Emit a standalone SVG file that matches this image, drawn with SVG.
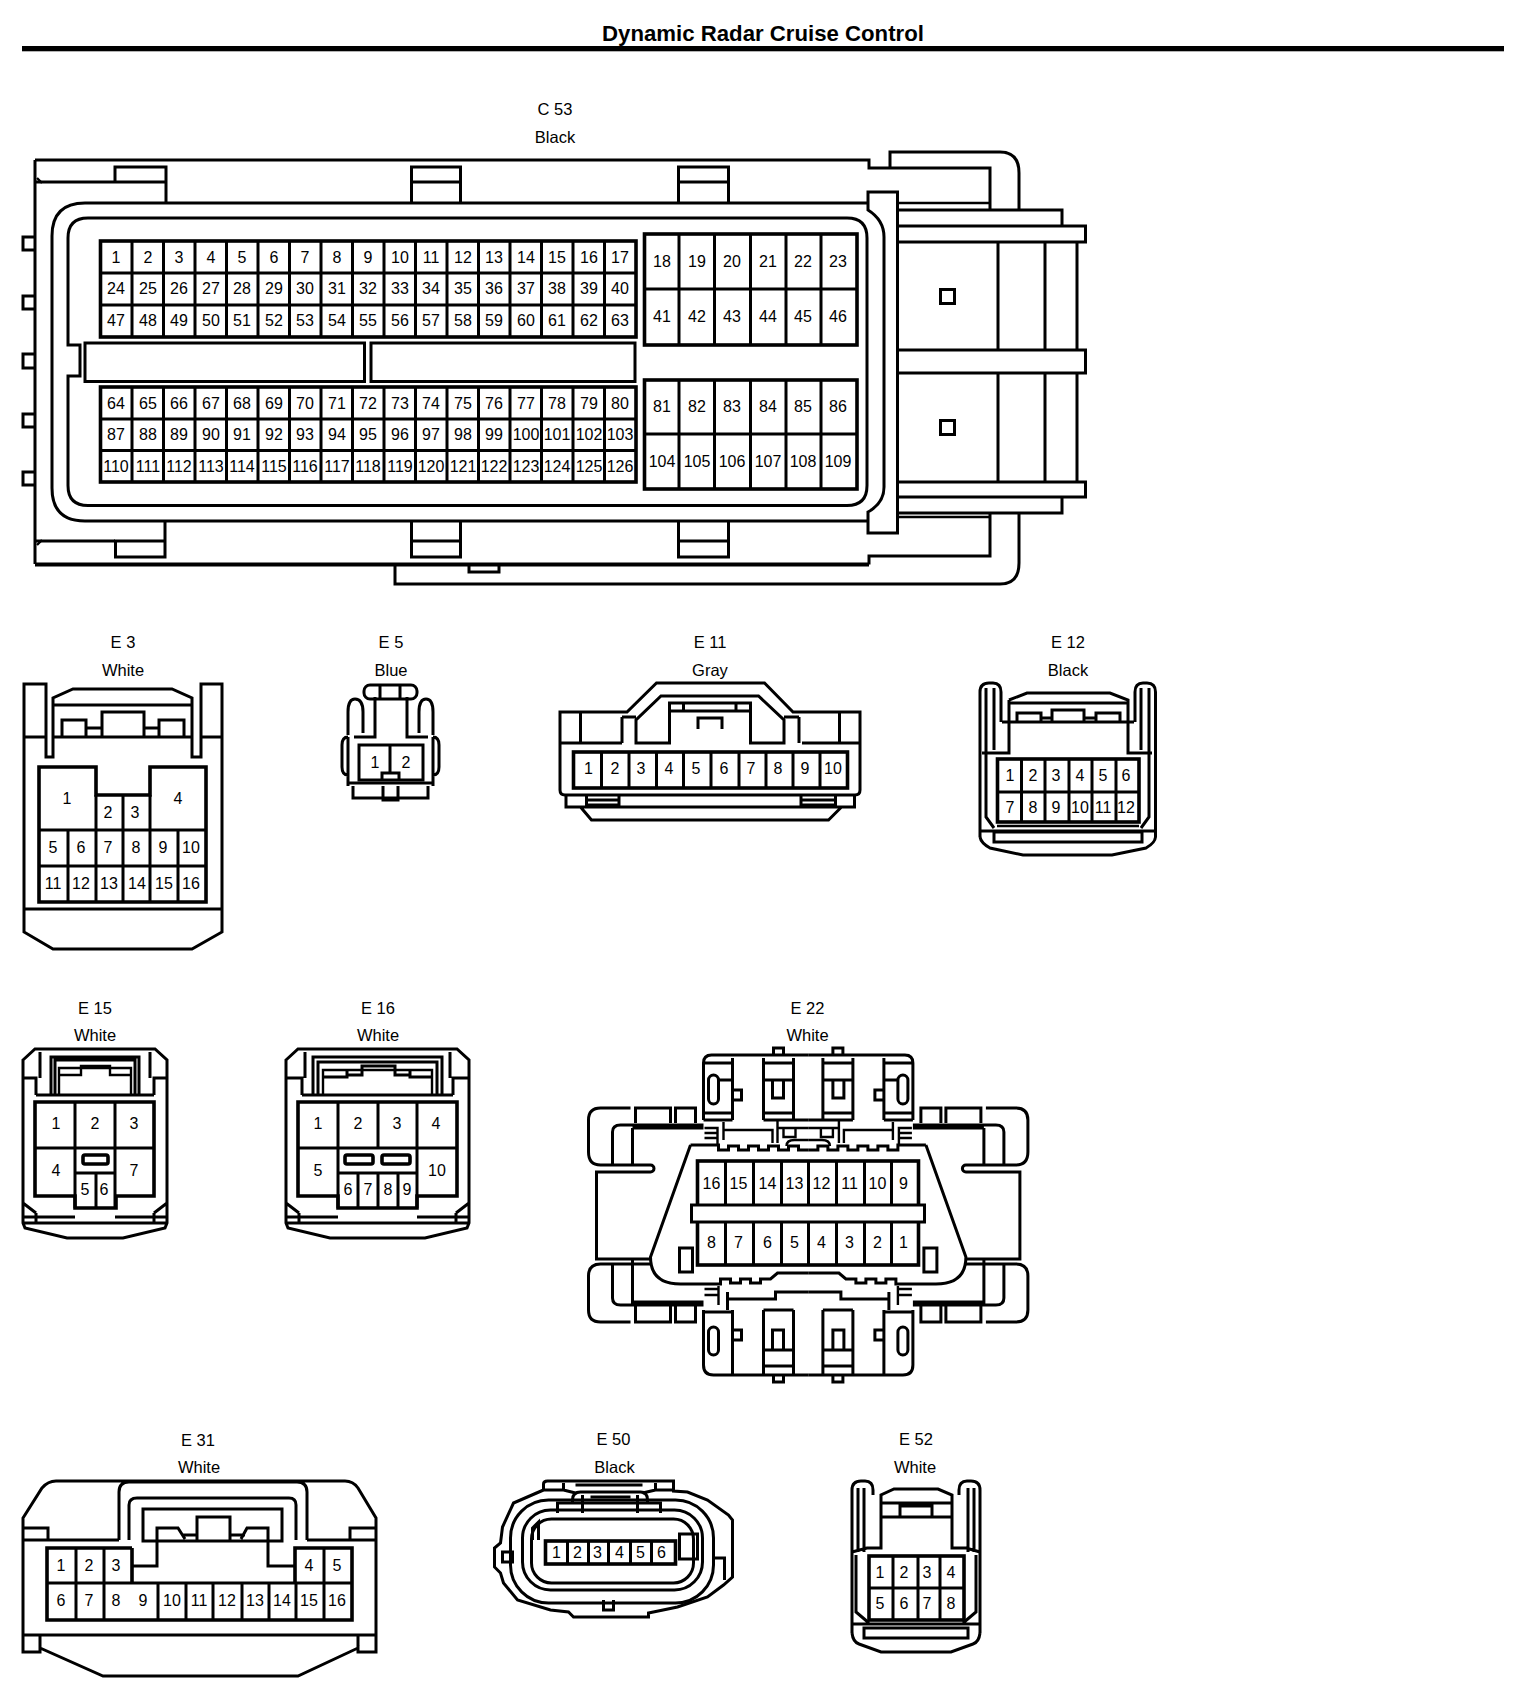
<svg xmlns="http://www.w3.org/2000/svg" xmlns:xlink="http://www.w3.org/1999/xlink" width="1520" height="1692" viewBox="0 0 1520 1692">
<style>
.s{fill:none;stroke:#000;stroke-width:3;stroke-linejoin:miter}
.m{fill:none;stroke:#000;stroke-width:2.4}
.b{fill:none;stroke:#000;stroke-width:3.6}
.o{fill:none;stroke:#000;stroke-width:4}
text{font-family:"Liberation Sans",Arial,sans-serif;fill:#000;text-anchor:middle}
.n text{font-size:16px}
.l{font-size:16.5px}
.t{font-size:22.2px;font-weight:bold}
</style>
<defs>
<path id="cols" d="M132,0V96M163.5,0V96M195,0V96M226.5,0V96M258,0V96M289.5,0V96M321,0V96M352.5,0V96M384,0V96M415.5,0V96M447,0V96M478.5,0V96M510,0V96M541.5,0V96M573,0V96M604.5,0V96"/>
<g id="e22h">
<path class="s" d="M807.7,1055H711Q703,1055 703,1063V1120M703,1063H732M732,1058V1120M703,1113H732M703,1120H732M718,1080H732M732,1090H741V1100H732M763,1058V1120M793,1058V1120M763,1063H793M763,1080H793M772,1080V1098H783V1080M763,1113H793M763,1120H807.7M773,1055V1048H783V1055"/>
<rect class="s" x="708" y="1075" width="10" height="29" rx="5"/>
<path class="m" d="M777,1120V1143M777,1128H807.7M723,1122V1140M704,1128H717V1145M704,1133H717M704,1138H717M723,1130H772V1143M783,1128H795V1137H783ZM786,1146Q786,1140 794,1140H807.7"/>
<path class="s" d="M690,1145H718V1150H728V1146H738V1150H748V1146H758V1150H768V1146H778V1150H788V1146H798V1150H807.7M690,1145L650,1257Q650,1284 680,1284H720V1279H730V1283H740V1279H750V1283H760V1279H770L777,1273H807.7M679,1248H692V1272H679Z"/>
<path class="s" d="M630,1108H600Q588,1108 588,1120V1152Q588,1165 600,1165H650A3.500,3.500 0 0 1 650,1172H596V1259H650M600,1264H650M630,1322H600Q588,1322 588,1310V1276Q588,1264 600,1264M635,1123V1108H670V1123M675,1123V1108H695V1123M635,1306V1322H670V1306M675,1306V1322H695V1306"/>
<path class="s" d="M703,1125H620Q612,1125 612,1132V1165M632,1128V1165M632,1128H703M703,1302H632V1260M612,1264V1298Q612,1305 620,1305H703"/>
<path class="s" d="M727,1299H775V1292H807.7M727,1292V1310M703,1310V1365Q703,1375 713,1375H807.7M703,1312H732M732,1310V1375M732,1330H741V1340H732M763,1310H793M763,1310V1375M793,1310V1375M772,1350V1330H783V1350M763,1350H793M763,1366H793M773,1375V1382H783V1375"/>
<rect class="s" x="708" y="1327" width="10" height="28" rx="5"/>
<path class="m" d="M704,1289H718M704,1295H718M718,1286V1305"/>
</g>
</defs>
<rect width="1520" height="1692" fill="#fff"/>
<g id="header">
<text class="t" x="763" y="41">Dynamic Radar Cruise Control</text>
<rect x="22" y="46" width="1482" height="5.300"/>
</g>
<g id="C53">
<text class="l" x="555" y="115">C 53</text>
<text class="l" x="555" y="143">Black</text>
<path class="s" d="M35,160H869V168H890V152H1000Q1019,152 1019,173V210M869,168H990V210M898,210H1062V226M898,226H1085.500V242H898M898,350H1085.500V373H898M898,482H1085.500V497H898M898,513H1062V497M1019,513V563Q1019,584 1000,584H395V566M869,564.500V556H990V513M1077,242V350M1077,373V482M998,242V350M998,373V482M1045,242V350M1045,373V482M35,160V564M35,182H166M35,541H115"/>
<path class="o" d="M35,564.500H869"/>
<path class="m" d="M898,203H990M898,517H990M37,178L42,183M37,545L42,540"/>
<path class="s" d="M115,182V167H166V203M411.500,203V167H460.500V203M411.500,182H460.500M678.500,203V167H728.500V203M678.500,182H728.500M165,521V557H115.500V541H165M411.500,521V557H460.500V521M411.500,541H460.500M678.500,521V557H728.500V521M678.500,541H728.500"/>
<path class="s" d="M868,192H897.500V533H868V512Q884,503 884,487V237Q884,220 868,210Z"/>
<path class="s" d="M868,203H85Q52,203 52,236V488Q52,521 85,521H868M847,218H88Q68,218 68,238V345H80V376H68V485.500Q68,505.500 88,505.500H847Q867,505.500 867,485.500V238Q867,218 847,218Z"/>
<path class="s" d="M35,237H23V250H35M35,296H23V309H35M35,354H23V368H35M35,414H23V427H35M35,472H23V485H35M469,566V572H499V566"/>
<rect class="s" x="940.500" y="289.500" width="14" height="14"/>
<rect class="s" x="940.500" y="420.500" width="14" height="14"/>
<rect class="s" x="85" y="343" width="279.500" height="38.500"/>
<rect class="s" x="371" y="343" width="264" height="38.500"/>
<rect class="b" x="100.500" y="241" width="535.500" height="96"/>
<rect class="b" x="100.500" y="387" width="535.500" height="95"/>
<use xlink:href="#cols" href="#cols" y="241" class="s"/>
<use xlink:href="#cols" href="#cols" y="387" class="s"/>
<path class="s" d="M100.500,273H636M100.500,305H636M100.500,419H636M100.500,450.500H636"/>
<rect class="b" x="644.500" y="234" width="212.500" height="111"/>
<rect class="b" x="644.500" y="380" width="212.500" height="109"/>
<path class="s" d="M679,234V345M714.500,234V345M750.500,234V345M786,234V345M821,234V345M679,380V489M714.500,380V489M750.500,380V489M786,380V489M821,380V489M644.500,289H857M644.500,434H857"/>
<g class="n">
<text x="116" y="262.500">1</text><text x="148" y="262.500">2</text><text x="179" y="262.500">3</text><text x="211" y="262.500">4</text><text x="242" y="262.500">5</text><text x="274" y="262.500">6</text><text x="305" y="262.500">7</text><text x="337" y="262.500">8</text><text x="368" y="262.500">9</text><text x="400" y="262.500">10</text><text x="431" y="262.500">11</text><text x="463" y="262.500">12</text><text x="494" y="262.500">13</text><text x="526" y="262.500">14</text><text x="557" y="262.500">15</text><text x="589" y="262.500">16</text><text x="620" y="262.500">17</text>
<text x="116" y="294">24</text><text x="148" y="294">25</text><text x="179" y="294">26</text><text x="211" y="294">27</text><text x="242" y="294">28</text><text x="274" y="294">29</text><text x="305" y="294">30</text><text x="337" y="294">31</text><text x="368" y="294">32</text><text x="400" y="294">33</text><text x="431" y="294">34</text><text x="463" y="294">35</text><text x="494" y="294">36</text><text x="526" y="294">37</text><text x="557" y="294">38</text><text x="589" y="294">39</text><text x="620" y="294">40</text>
<text x="116" y="325.500">47</text><text x="148" y="325.500">48</text><text x="179" y="325.500">49</text><text x="211" y="325.500">50</text><text x="242" y="325.500">51</text><text x="274" y="325.500">52</text><text x="305" y="325.500">53</text><text x="337" y="325.500">54</text><text x="368" y="325.500">55</text><text x="400" y="325.500">56</text><text x="431" y="325.500">57</text><text x="463" y="325.500">58</text><text x="494" y="325.500">59</text><text x="526" y="325.500">60</text><text x="557" y="325.500">61</text><text x="589" y="325.500">62</text><text x="620" y="325.500">63</text>
<text x="116" y="409">64</text><text x="148" y="409">65</text><text x="179" y="409">66</text><text x="211" y="409">67</text><text x="242" y="409">68</text><text x="274" y="409">69</text><text x="305" y="409">70</text><text x="337" y="409">71</text><text x="368" y="409">72</text><text x="400" y="409">73</text><text x="431" y="409">74</text><text x="463" y="409">75</text><text x="494" y="409">76</text><text x="526" y="409">77</text><text x="557" y="409">78</text><text x="589" y="409">79</text><text x="620" y="409">80</text>
<text x="116" y="440">87</text><text x="148" y="440">88</text><text x="179" y="440">89</text><text x="211" y="440">90</text><text x="242" y="440">91</text><text x="274" y="440">92</text><text x="305" y="440">93</text><text x="337" y="440">94</text><text x="368" y="440">95</text><text x="400" y="440">96</text><text x="431" y="440">97</text><text x="463" y="440">98</text><text x="494" y="440">99</text><text x="526" y="440">100</text><text x="557" y="440">101</text><text x="589" y="440">102</text><text x="620" y="440">103</text>
<text x="116" y="471.500">110</text><text x="148" y="471.500">111</text><text x="179" y="471.500">112</text><text x="211" y="471.500">113</text><text x="242" y="471.500">114</text><text x="274" y="471.500">115</text><text x="305" y="471.500">116</text><text x="337" y="471.500">117</text><text x="368" y="471.500">118</text><text x="400" y="471.500">119</text><text x="431" y="471.500">120</text><text x="463" y="471.500">121</text><text x="494" y="471.500">122</text><text x="526" y="471.500">123</text><text x="557" y="471.500">124</text><text x="589" y="471.500">125</text><text x="620" y="471.500">126</text>
<text x="662" y="267">18</text><text x="697" y="267">19</text><text x="732" y="267">20</text><text x="768" y="267">21</text><text x="803" y="267">22</text><text x="838" y="267">23</text>
<text x="662" y="322">41</text><text x="697" y="322">42</text><text x="732" y="322">43</text><text x="768" y="322">44</text><text x="803" y="322">45</text><text x="838" y="322">46</text>
<text x="662" y="412">81</text><text x="697" y="412">82</text><text x="732" y="412">83</text><text x="768" y="412">84</text><text x="803" y="412">85</text><text x="838" y="412">86</text>
<text x="662" y="467">104</text><text x="697" y="467">105</text><text x="732" y="467">106</text><text x="768" y="467">107</text><text x="803" y="467">108</text><text x="838" y="467">109</text>
</g>
</g>
<g id="E3">
<text class="l" x="123" y="647.500">E 3</text><text class="l" x="123" y="675.500">White</text>
<path class="s" d="M24,684H46V757H53V698L73,689H172L192,698V757H201V684H222V932L192,949H53L24,932ZM53,705H192M24,737H46M53,737H192M201,737H222M24,909H222M62,737V720H86V737M102,737V712H144V737M159,737V720H184V737M86,728H102M144,728H159"/>
<path class="b" d="M39,767H96V795H150V767H206V902H39Z"/>
<path class="s" d="M39,830H206M39,866H206M68,830V902M96,795V902M123,795V902M150,795V902M178,830V902"/>
<g class="n"><text x="67" y="804">1</text><text x="108" y="818">2</text><text x="135" y="818">3</text><text x="178" y="804">4</text><text x="53" y="853">5</text><text x="81" y="853">6</text><text x="108" y="853">7</text><text x="136" y="853">8</text><text x="163" y="853">9</text><text x="191" y="853">10</text><text x="53" y="889">11</text><text x="81" y="889">12</text><text x="109" y="889">13</text><text x="137" y="889">14</text><text x="164" y="889">15</text><text x="191" y="889">16</text></g>
</g>
<g id="E5">
<text class="l" x="391" y="647.500">E 5</text><text class="l" x="391" y="675.500">Blue</text>
<rect class="s" x="364" y="685" width="53" height="14" rx="6"/>
<path class="s" d="M380,685V699M400,685V699M375,697V737H354M407,697V737H428M348,735V712Q348,699 355,699Q363,699 363,712V733M433,735V712Q433,699 426,699Q419,699 419,712V733M348,737V786M433,737V786M348,737Q342,737 342,745V767Q342,775 348,775M433,737Q439,737 439,745V767Q439,775 433,775M348,783H433M353,786V798H428V786M383,786V800H398V786"/>
<rect class="s" x="359" y="745" width="64" height="35"/>
<path class="s" d="M390,745V773M382,780V773H399V780"/>
<g class="n"><text x="375" y="768">1</text><text x="406" y="768">2</text></g>
</g>
<g id="E11" transform="translate(2,0)">
<text class="l" x="708" y="647.500">E 11</text><text class="l" x="708" y="675.500">Gray</text>
<path class="s" d="M558,712H625L654.500,683H762.500L791,712H858V790Q858,795 853,795H563Q558,795 558,790ZM558,743H620M800,743H858M578.500,712V743M620,717V743M620,717H634M782,717H797M797,717V743M837.500,712V743M634,743V720L659,696H756.500L782,720V743H748.500V703H667.500V743ZM667.500,711H748.500M681.500,703V711M734,703V711M696,729V718H720V729"/>
<rect class="b" x="571.500" y="752" width="274" height="36"/>
<path class="s" d="M599.500,752V788M627,752V788M654.500,752V788M681.500,752V788M709,752V788M737,752V788M764,752V788M791,752V788M818,752V788"/>
<path class="s" d="M564,795V807H852.500V795M584.500,795V807M617,795V807M799,795V807M833.500,795V807M585,800H617M585,805H617M799,800H833M799,805H833M578.500,807L589.500,820H826.500L839.500,807"/>
<g class="n"><text x="586.500" y="774">1</text><text x="613" y="774">2</text><text x="639" y="774">3</text><text x="667" y="774">4</text><text x="694" y="774">5</text><text x="722" y="774">6</text><text x="749" y="774">7</text><text x="776" y="774">8</text><text x="803" y="774">9</text><text x="831" y="774">10</text></g>
</g>
<g id="E12" transform="translate(5,0)">
<text class="l" x="1063" y="647.500">E 12</text><text class="l" x="1063" y="675.500">Black</text>
<path class="s" d="M975,837V692Q975,683 984,683H988Q996,683 996,692V700M981,688V750M989,688V750M996,700V722M1004,700V753H977M1004,700L1022,693H1105L1123,700V753H1147M1004,703H1123M997,722H1129M1012,722V713H1036V722M1047,722V710H1079V722M1091,722V713H1115V722M1036,718H1047M1079,718H1091M1150.500,837V692Q1150.500,683 1142,683H1138Q1130,683 1130,692V722M1144,688V750M1136,688V750"/>
<path class="s" d="M975,837Q976,843 985,848L1018,855H1107L1141,848Q1150,843 1150.500,837M981,750V817L989,828M1144,750V817L1136,828M975,831H1150.500"/>
<rect class="s" x="989" y="832" width="148" height="10"/>
<rect class="b" x="992.500" y="759" width="141.500" height="63"/>
<path class="s" d="M992.500,792H1134M1016.500,759V822M1040,759V822M1064,759V822M1087,759V822M1111,759V822"/>
<path class="m" d="M992,826H1134"/>
<g class="n"><text x="1005" y="781">1</text><text x="1028" y="781">2</text><text x="1051" y="781">3</text><text x="1075" y="781">4</text><text x="1098" y="781">5</text><text x="1121" y="781">6</text><text x="1005" y="813">7</text><text x="1028" y="813">8</text><text x="1051" y="813">9</text><text x="1075" y="813">10</text><text x="1098" y="813">11</text><text x="1121" y="813">12</text></g>
</g>
<g id="E15">
<text class="l" x="95" y="1013.500">E 15</text><text class="l" x="95" y="1040.500">White</text>
<path class="s" d="M23,1060L35,1049H155L167,1060V1223L165,1228L123,1238H67L25,1228L23,1223ZM40,1052V1078M150,1052V1078M23,1078H36V1095M167,1078H154V1095M36,1095H154M23,1217H75M115,1217H167M23,1223H167M23,1203L36,1213M167,1203L154,1213M36,1213V1223M154,1213V1223"/>
<path class="s" d="M51,1095V1057H139V1095M55,1095V1060H135V1095"/>
<path class="m" d="M59,1095V1068H131V1095M59,1075H81V1066H110V1075H131"/>
<path class="b" d="M35,1102H154V1196H116V1208H75V1196H35Z"/>
<path class="s" d="M35,1148H154M75,1102V1208M115,1102V1208M75,1173H115M96,1173V1208"/>
<rect class="b" x="83" y="1155" width="25" height="9" rx="2"/>
<g class="n"><text x="56" y="1129">1</text><text x="95" y="1129">2</text><text x="134" y="1129">3</text><text x="56" y="1176">4</text><text x="85" y="1195">5</text><text x="104" y="1195">6</text><text x="134" y="1176">7</text></g>
</g>
<g id="E16">
<text class="l" x="378" y="1013.500">E 16</text><text class="l" x="378" y="1040.500">White</text>
<path class="s" d="M286,1060L298,1049H457L469,1060V1223L467,1228L425,1238H330L288,1228L286,1223ZM305,1052V1078M450,1052V1078M286,1078H302V1095M469,1078H453V1095M302,1095H453M286,1217H338M417,1217H469M286,1223H469M286,1203L299,1213M469,1203L456,1213M299,1213V1223M456,1213V1223"/>
<path class="s" d="M313,1095V1057H442V1095M318,1095V1062H437V1095"/>
<path class="m" d="M323,1095V1070H432V1095"/>
<path class="s" d="M323,1077H347V1070M410,1070V1077H432M347,1075H362V1066H395V1075H410"/>
<path class="b" d="M298,1102H457V1196H417V1208H338V1196H298Z"/>
<path class="s" d="M298,1148H457M338,1102V1208M378,1102V1148M417,1102V1208M338,1173H417M358,1173V1208M378,1173V1208M398,1173V1208"/>
<rect class="b" x="345" y="1155" width="28" height="9" rx="2"/>
<rect class="b" x="382" y="1155" width="28" height="9" rx="2"/>
<g class="n"><text x="318" y="1129">1</text><text x="358" y="1129">2</text><text x="397" y="1129">3</text><text x="436" y="1129">4</text><text x="318" y="1176">5</text><text x="437" y="1176">10</text><text x="348" y="1195">6</text><text x="368" y="1195">7</text><text x="388" y="1195">8</text><text x="407" y="1195">9</text></g>
</g>
<g id="E22" transform="translate(0.500,0)">
<text class="l" x="807" y="1013.500">E 22</text><text class="l" x="807" y="1040.500">White</text>
<use xlink:href="#e22h" href="#e22h"/>
<use xlink:href="#e22h" href="#e22h" transform="matrix(-1 0 0 1 1615.400 0)"/>
<rect class="b" x="697" y="1161" width="221" height="104"/>
<path class="s" d="M725,1161V1205M753,1161V1205M781,1161V1205M808,1161V1205M836,1161V1205M864,1161V1205M891,1161V1205M725,1222V1265M753,1222V1265M781,1222V1265M808,1222V1265M836,1222V1265M864,1222V1265M891,1222V1265"/>
<rect x="691" y="1205" width="233" height="17" fill="#fff" stroke="#000" stroke-width="3"/>
<g class="n"><text x="711" y="1189">16</text><text x="738" y="1189">15</text><text x="767" y="1189">14</text><text x="794" y="1189">13</text><text x="821" y="1189">12</text><text x="849" y="1189">11</text><text x="877" y="1189">10</text><text x="903" y="1189">9</text><text x="711" y="1248">8</text><text x="738" y="1248">7</text><text x="767" y="1248">6</text><text x="794" y="1248">5</text><text x="821" y="1248">4</text><text x="849" y="1248">3</text><text x="877" y="1248">2</text><text x="903" y="1248">1</text></g>
</g>
<g id="E31">
<text class="l" x="198" y="1445.500">E 31</text><text class="l" x="199" y="1472.500">White</text>
<path class="s" d="M23,1518L42,1488Q48,1481 56,1481H345Q353,1481 358,1488L376,1518V1652H358V1648L298,1676H103L40,1648V1652H23ZM23,1635H376M40,1635V1652M358,1635V1652M23,1540H119M307,1540H376M23,1528H48V1540M376,1528H350V1540M119,1540V1492Q119,1482 129,1482H297Q307,1482 307,1492V1540M129,1540V1505Q129,1498 137,1498H289Q296,1498 296,1505V1540"/>
<path class="s" d="M143,1541V1509H282V1541ZM197,1541V1517H230V1541M133,1566H157V1528H178L185,1539M295,1566H268V1528H247L241,1539M183,1535H197M230,1535H245"/>
<path class="b" d="M132,1548H47V1620H352V1548H295V1583M132,1548V1583"/>
<path class="s" d="M47,1583H352M76,1548V1620M104,1548V1620M158,1583V1620M186,1583V1620M213,1583V1620M242,1583V1620M269,1583V1620M296,1583V1620M324,1548V1620"/>
<g class="n"><text x="61" y="1571">1</text><text x="89" y="1571">2</text><text x="116" y="1571">3</text><text x="309" y="1571">4</text><text x="337" y="1571">5</text><text x="61" y="1606">6</text><text x="89" y="1606">7</text><text x="116" y="1606">8</text><text x="143" y="1606">9</text><text x="172" y="1606">10</text><text x="199" y="1606">11</text><text x="227" y="1606">12</text><text x="255" y="1606">13</text><text x="282" y="1606">14</text><text x="309" y="1606">15</text><text x="337" y="1606">16</text></g>
</g>
<g id="E50" transform="translate(0.500,0)">
<text class="l" x="613" y="1444.500">E 50</text><text class="l" x="614" y="1472.500">Black</text>
<path class="s" d="M543,1490V1484Q543,1481 547,1481H673V1491L687,1492L707,1500L728,1515L732,1520V1577L723,1585L707,1597L677,1607L648,1613V1617H573L568,1612L550,1610L517,1600L503,1583L500,1573L494,1567V1548L500,1543L502,1527L513,1503L543,1490M563,1490V1483M655,1490V1483M543,1490H563M655,1490H673M575,1485H642M563,1490L575,1493M655,1490L642,1493"/>
<rect class="s" x="510" y="1500" width="203" height="103" rx="38"/>
<rect class="s" x="522" y="1510" width="180" height="80" rx="28"/>
<rect class="s" x="531" y="1519" width="162" height="64" rx="20"/>
<path class="s" d="M557,1513V1503H572V1500Q572,1492 580,1492H640Q647,1492 647,1500V1503H660V1513M572,1503H647M582,1495V1513M637,1495V1513M590,1497H630M532,1540V1528L538,1522V1540M502,1552H512V1562H502ZM713,1558H724V1580M603,1600V1610H613V1600M679,1534H697V1559H679Z"/>
<rect class="b" x="545" y="1541" width="130" height="23"/>
<path class="s" d="M567,1541V1564M588,1541V1564M608,1541V1564M630,1541V1564M651,1541V1564"/>
<g class="n"><text x="556" y="1558">1</text><text x="577" y="1558">2</text><text x="597" y="1558">3</text><text x="619" y="1558">4</text><text x="640" y="1558">5</text><text x="661" y="1558">6</text></g>
</g>
<g id="E52" transform="translate(1,0)">
<text class="l" x="915" y="1444.500">E 52</text><text class="l" x="914" y="1472.500">White</text>
<path class="s" d="M851,1633V1490Q851,1481 860,1481H864Q872,1481 872,1490V1495M857,1488V1552M863,1488V1552M851,1552L866,1548H880V1495L893,1489H937L951,1495V1548H965L979,1552M880,1503H951M880,1517H951M899,1517V1506H931V1517M979,1633V1490Q979,1481 970,1481H966Q958,1481 958,1490V1495M973,1488V1552M967,1488V1552"/>
<path class="s" d="M851,1633Q852,1642 858,1644L880,1652H950L972,1644Q978,1642 979,1633M855,1555V1612L868,1623M975,1555V1612L962,1623M851,1624H979"/>
<rect class="s" x="863" y="1628" width="104" height="10"/>
<rect class="b" x="868" y="1556" width="95" height="64"/>
<path class="s" d="M868,1588H963M892,1556V1620M917,1556V1620M939,1556V1620"/>
<g class="n"><text x="879" y="1578">1</text><text x="903" y="1578">2</text><text x="926" y="1578">3</text><text x="950" y="1578">4</text><text x="879" y="1609">5</text><text x="903" y="1609">6</text><text x="926" y="1609">7</text><text x="950" y="1609">8</text></g>
</g>
</svg>
